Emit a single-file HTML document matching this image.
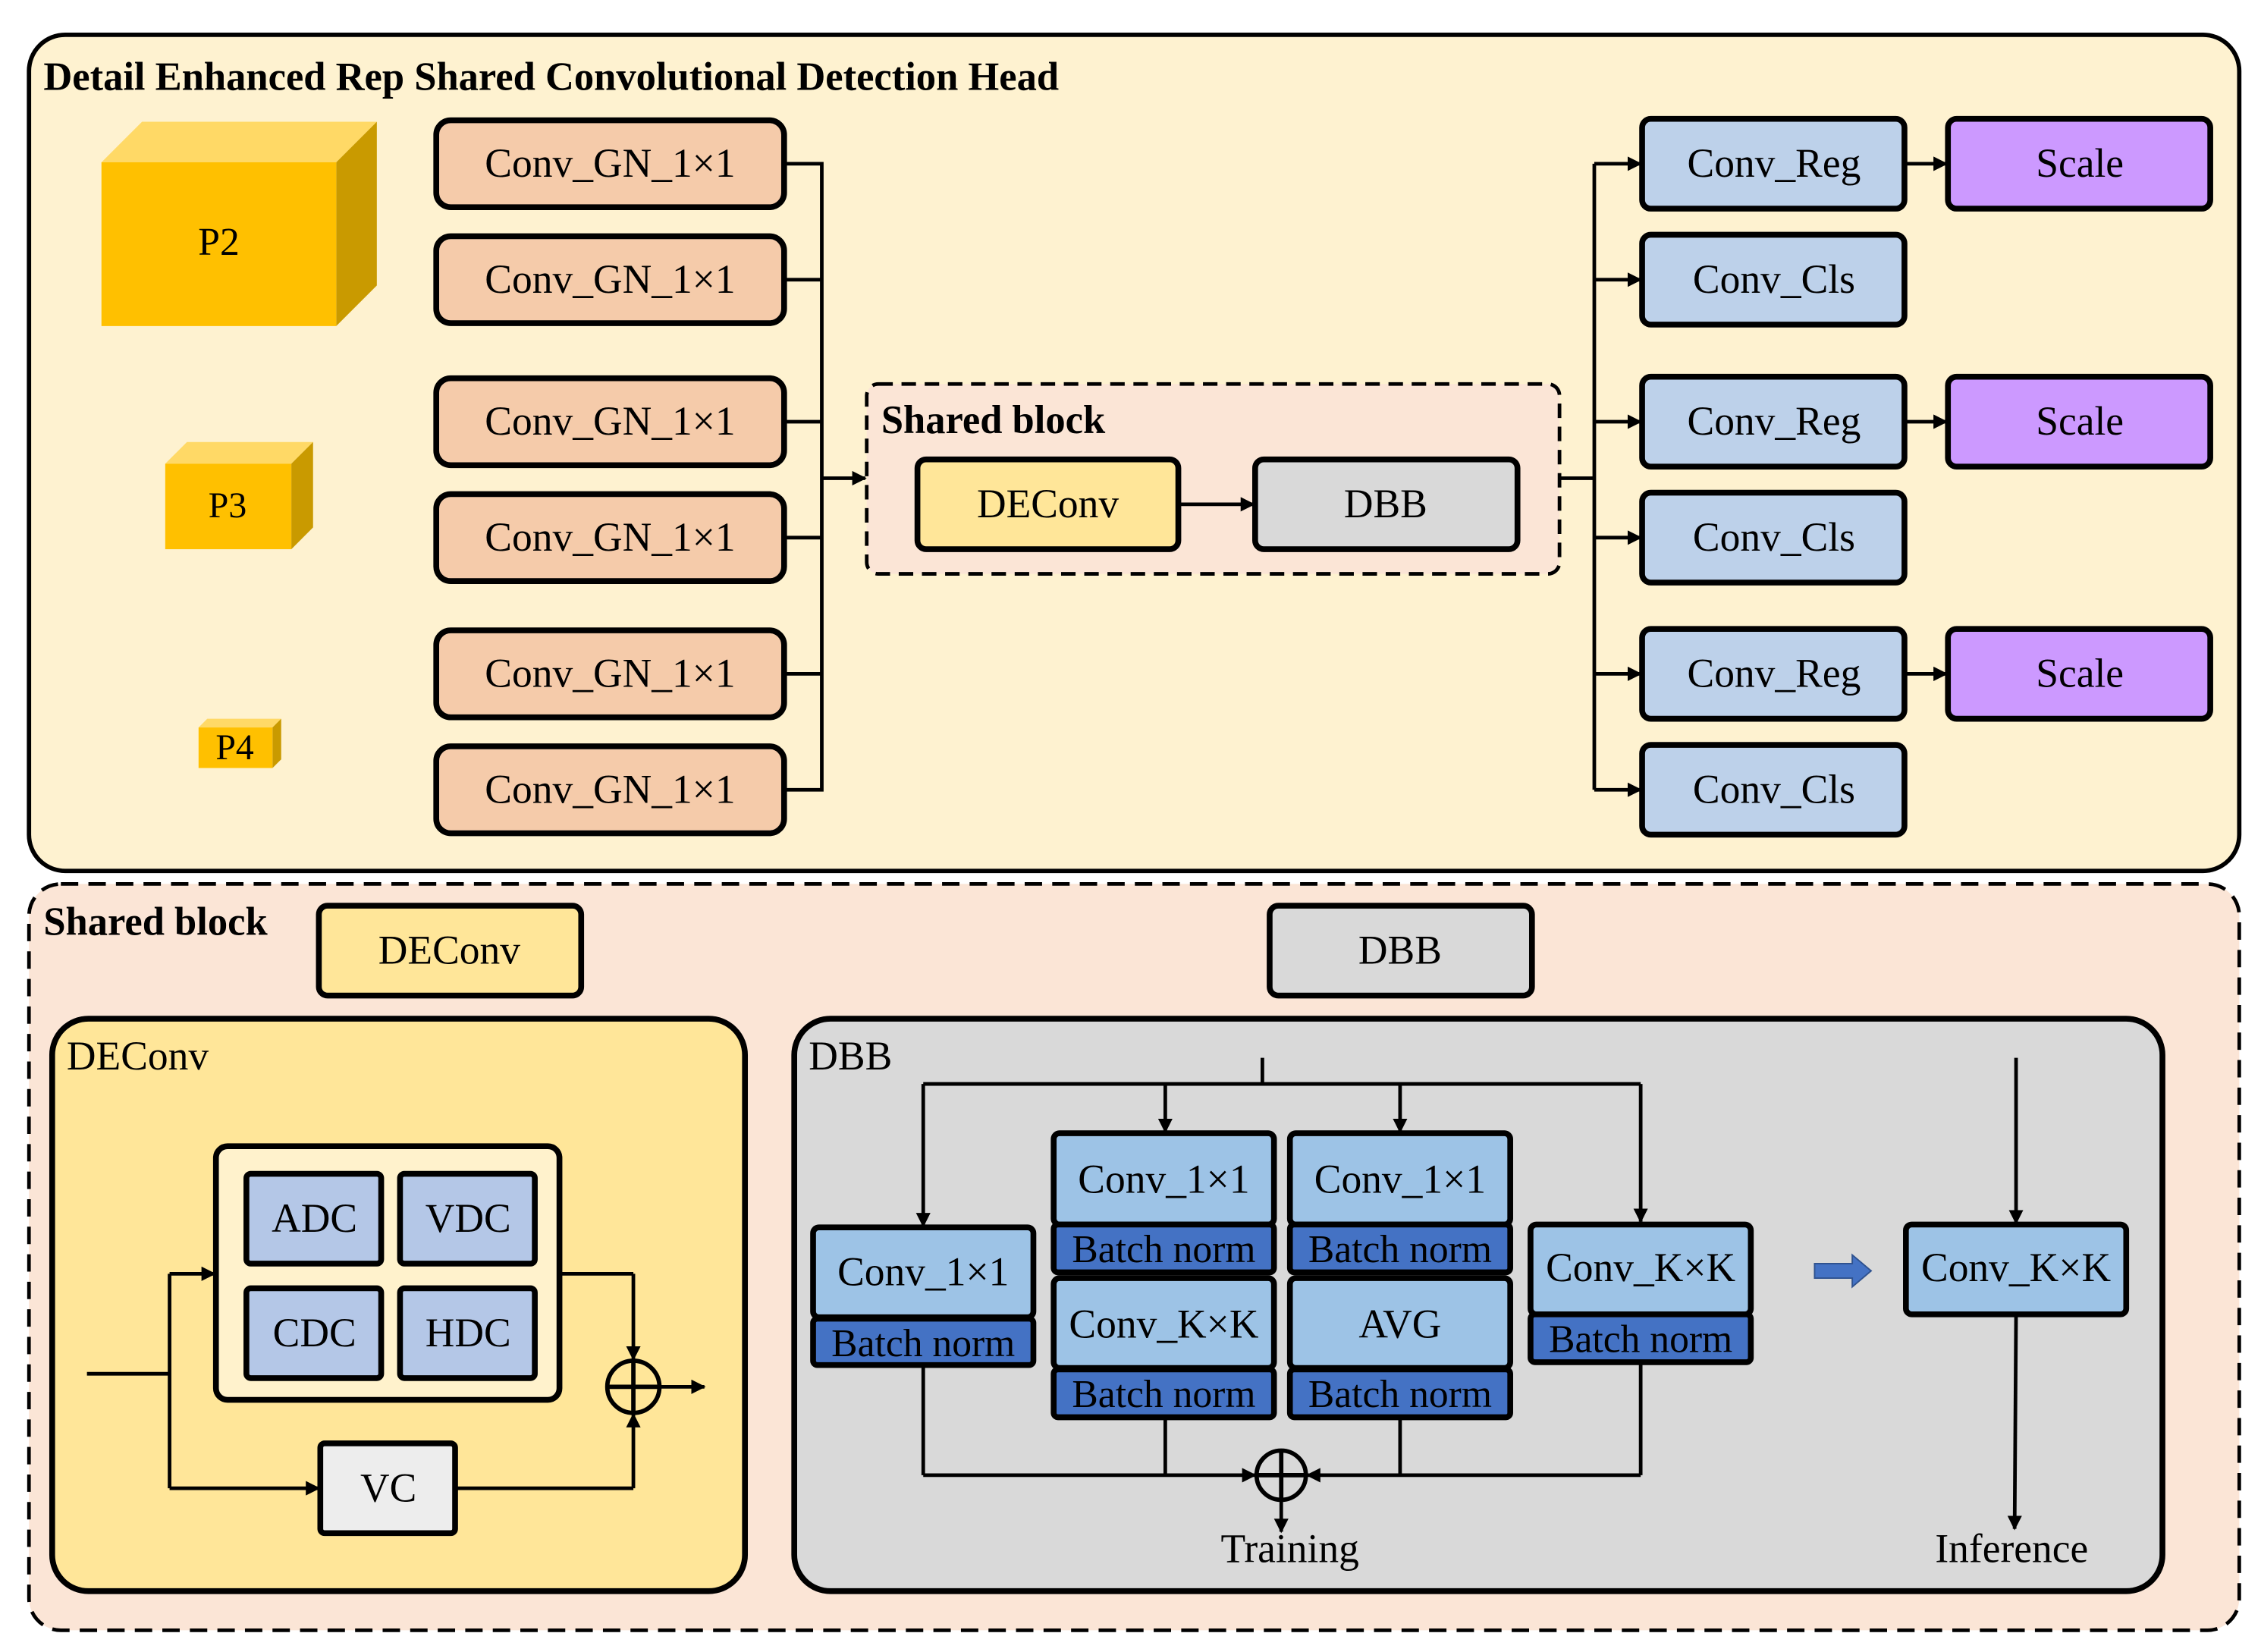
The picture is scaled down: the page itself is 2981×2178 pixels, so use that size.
<!DOCTYPE html>
<html><head><meta charset="utf-8"><style>
html,body{margin:0;padding:0;background:#fff;}
svg{display:block;}
text{font-family:"Liberation Serif",serif;}
</style></head><body>
<svg width="2981" height="2178" viewBox="0 0 1560 1140" preserveAspectRatio="none" xmlns="http://www.w3.org/2000/svg">
<defs>
<marker id="a" markerWidth="10" markerHeight="10" refX="9" refY="5" orient="auto" markerUnits="userSpaceOnUse"><path d="M0,0 L10,5 L0,10 z" fill="#000"/></marker>
</defs>
<rect width="1560" height="1140" fill="#fff"/>
<rect x="20" y="24" width="1525" height="577" rx="25" fill="#FEF2D0" stroke="#000" stroke-width="3"/>
<text x="30" y="62" font-size="27.5" font-weight="bold">Detail Enhanced Rep Shared Convolutional Detection Head</text>
<polygon points="70,112 98,84 260,84 232,112" fill="#FFD966"/>
<polygon points="232,112 260,84 260,197 232,225" fill="#C99A00"/>
<rect x="70" y="112" width="162" height="113" fill="#FFC000"/>
<text x="151" y="176" font-size="27" text-anchor="middle">P2</text>
<polygon points="114,320 129,305 216,305 201,320" fill="#FFD966"/>
<polygon points="201,320 216,305 216,364 201,379" fill="#C99A00"/>
<rect x="114" y="320" width="87" height="59" fill="#FFC000"/>
<text x="157" y="357" font-size="25" text-anchor="middle">P3</text>
<polygon points="137,502 143,496 194,496 188,502" fill="#FFD966"/>
<polygon points="188,502 194,496 194,524 188,530" fill="#C99A00"/>
<rect x="137" y="502" width="51" height="28" fill="#FFC000"/>
<text x="162" y="524" font-size="25" text-anchor="middle">P4</text>
<g fill="#F5CBAA" stroke="#000" stroke-width="4">
<rect x="301" y="83" width="240" height="60" rx="10"/>
<rect x="301" y="163" width="240" height="60" rx="10"/>
<rect x="301" y="261" width="240" height="60" rx="10"/>
<rect x="301" y="341" width="240" height="60" rx="10"/>
<rect x="301" y="435" width="240" height="60" rx="10"/>
<rect x="301" y="515" width="240" height="60" rx="10"/>
</g>
<g font-size="28" text-anchor="middle">
<text x="421" y="122">Conv_GN_1×1</text>
<text x="421" y="202">Conv_GN_1×1</text>
<text x="421" y="300">Conv_GN_1×1</text>
<text x="421" y="380">Conv_GN_1×1</text>
<text x="421" y="474">Conv_GN_1×1</text>
<text x="421" y="554">Conv_GN_1×1</text>
</g>
<g stroke="#000" stroke-width="2.5" fill="none">
<path d="M541,113 H567 V545 H541 M541,193 H567 M541,291 H567 M541,371 H567 M541,465 H567"/>
<line x1="567" y1="330" x2="597" y2="330" marker-end="url(#a)"/>
</g>
<rect x="598" y="265" width="478" height="131" rx="8" fill="#FBE5D6" stroke="#000" stroke-width="2.5" stroke-dasharray="10,6"/>
<text x="608" y="299" font-size="27.5" font-weight="bold">Shared block</text>
<rect x="633" y="317" width="180" height="62" rx="6" fill="#FFE699" stroke="#000" stroke-width="4"/>
<text x="723" y="357" font-size="28" text-anchor="middle">DEConv</text>
<rect x="866" y="317" width="181" height="62" rx="6" fill="#D9D9D9" stroke="#000" stroke-width="4"/>
<text x="956" y="357" font-size="28" text-anchor="middle">DBB</text>
<line x1="813" y1="348" x2="865" y2="348" stroke="#000" stroke-width="2.5" marker-end="url(#a)"/>
<g stroke="#000" stroke-width="2.5" fill="none">
<path d="M1076,330 H1100 M1100,113 V545"/>
<line x1="1100" y1="113" x2="1132" y2="113" marker-end="url(#a)"/>
<line x1="1100" y1="193" x2="1132" y2="193" marker-end="url(#a)"/>
<line x1="1100" y1="291" x2="1132" y2="291" marker-end="url(#a)"/>
<line x1="1100" y1="371" x2="1132" y2="371" marker-end="url(#a)"/>
<line x1="1100" y1="465" x2="1132" y2="465" marker-end="url(#a)"/>
<line x1="1100" y1="545" x2="1132" y2="545" marker-end="url(#a)"/>
<line x1="1314" y1="113" x2="1343" y2="113" marker-end="url(#a)"/>
<line x1="1314" y1="291" x2="1343" y2="291" marker-end="url(#a)"/>
<line x1="1314" y1="465" x2="1343" y2="465" marker-end="url(#a)"/>
</g>
<g fill="#BDD1EA" stroke="#000" stroke-width="4">
<rect x="1133" y="82" width="181" height="62" rx="6"/>
<rect x="1133" y="162" width="181" height="62" rx="6"/>
<rect x="1133" y="260" width="181" height="62" rx="6"/>
<rect x="1133" y="340" width="181" height="62" rx="6"/>
<rect x="1133" y="434" width="181" height="62" rx="6"/>
<rect x="1133" y="514" width="181" height="62" rx="6"/>
</g>
<g fill="#CC99FF" stroke="#000" stroke-width="4">
<rect x="1344" y="82" width="181" height="62" rx="6"/>
<rect x="1344" y="260" width="181" height="62" rx="6"/>
<rect x="1344" y="434" width="181" height="62" rx="6"/>
</g>
<g font-size="28" text-anchor="middle">
<text x="1224" y="122">Conv_Reg</text>
<text x="1224" y="202">Conv_Cls</text>
<text x="1224" y="300">Conv_Reg</text>
<text x="1224" y="380">Conv_Cls</text>
<text x="1224" y="474">Conv_Reg</text>
<text x="1224" y="554">Conv_Cls</text>
<text x="1435" y="122">Scale</text>
<text x="1435" y="300">Scale</text>
<text x="1435" y="474">Scale</text>
</g>
<rect x="20" y="610" width="1525" height="515" rx="22" fill="#FBE5D6" stroke="#000" stroke-width="2.5" stroke-dasharray="12,7"/>
<text x="30" y="645" font-size="27.5" font-weight="bold">Shared block</text>
<rect x="220" y="625" width="181" height="62" rx="6" fill="#FFE699" stroke="#000" stroke-width="4"/>
<text x="310" y="665" font-size="28" text-anchor="middle">DEConv</text>
<rect x="876" y="625" width="181" height="62" rx="6" fill="#D9D9D9" stroke="#000" stroke-width="4"/>
<text x="966" y="665" font-size="28" text-anchor="middle">DBB</text>
<rect x="36" y="703" width="478" height="395" rx="25" fill="#FFE699" stroke="#000" stroke-width="4"/>
<text x="46" y="738" font-size="28">DEConv</text>
<rect x="149" y="791" width="237" height="175" rx="8" fill="#FFF2CC" stroke="#000" stroke-width="4"/>
<g fill="#B4C7E7" stroke="#000" stroke-width="4">
<rect x="170" y="810" width="93" height="62" rx="3"/>
<rect x="276" y="810" width="93" height="62" rx="3"/>
<rect x="170" y="889" width="93" height="62" rx="3"/>
<rect x="276" y="889" width="93" height="62" rx="3"/>
</g>
<rect x="221" y="996" width="93" height="62" rx="3" fill="#EDEDED" stroke="#000" stroke-width="4"/>
<g font-size="28" text-anchor="middle">
<text x="217" y="850">ADC</text>
<text x="323" y="850">VDC</text>
<text x="217" y="929">CDC</text>
<text x="323" y="929">HDC</text>
<text x="268" y="1036">VC</text>
</g>
<g stroke="#000" stroke-width="2.5" fill="none">
<path d="M60,948 H117 M117,879 V1027"/>
<line x1="117" y1="879" x2="148" y2="879" marker-end="url(#a)"/>
<line x1="117" y1="1027" x2="220" y2="1027" marker-end="url(#a)"/>
<path d="M386,879 H437"/>
<line x1="437" y1="879" x2="437" y2="938" marker-end="url(#a)"/>
<path d="M314,1027 H437"/>
<line x1="437" y1="1027" x2="437" y2="976" marker-end="url(#a)"/>
<circle cx="437" cy="957" r="18" stroke-width="3"/>
<path d="M419,957 H455 M437,939 V975" stroke-width="3"/>
<line x1="455" y1="957" x2="486" y2="957" marker-end="url(#a)"/>
</g>
<rect x="548" y="703" width="944" height="395" rx="25" fill="#D9D9D9" stroke="#000" stroke-width="4"/>
<text x="558" y="738" font-size="28">DBB</text>
<g stroke="#000" stroke-width="2.5" fill="none">
<path d="M871,730 V748 M637,748 H1132"/>
<line x1="637" y1="748" x2="637" y2="846" marker-end="url(#a)"/>
<line x1="804" y1="748" x2="804" y2="781" marker-end="url(#a)"/>
<line x1="966" y1="748" x2="966" y2="781" marker-end="url(#a)"/>
<line x1="1132" y1="748" x2="1132" y2="843" marker-end="url(#a)"/>
<path d="M637,942 V1018 M804,978 V1018 M966,978 V1018 M1132,940 V1018"/>
<line x1="637" y1="1018" x2="866" y2="1018" marker-end="url(#a)"/>
<line x1="1132" y1="1018" x2="902" y2="1018" marker-end="url(#a)"/>
<circle cx="884" cy="1018" r="17" stroke-width="3"/>
<path d="M867,1018 H901 M884,1001 V1035" stroke-width="3"/>
<line x1="884" y1="1035" x2="884" y2="1057" marker-end="url(#a)"/>
<line x1="1391" y1="730" x2="1391" y2="844" marker-end="url(#a)"/>
<line x1="1391" y1="907" x2="1390" y2="1055" marker-end="url(#a)"/>
</g>
<g stroke="#000" stroke-width="4">
<rect x="561" y="847" width="152" height="62" rx="4" fill="#9DC3E6"/>
<rect x="561" y="910" width="152" height="32" rx="3" fill="#4472C4"/>
<rect x="727" y="782" width="152" height="63" rx="4" fill="#9DC3E6"/>
<rect x="727" y="845" width="152" height="33" rx="3" fill="#4472C4"/>
<rect x="727" y="882" width="152" height="62" rx="4" fill="#9DC3E6"/>
<rect x="727" y="945" width="152" height="33" rx="3" fill="#4472C4"/>
<rect x="890" y="782" width="152" height="63" rx="4" fill="#9DC3E6"/>
<rect x="890" y="845" width="152" height="33" rx="3" fill="#4472C4"/>
<rect x="890" y="882" width="152" height="62" rx="4" fill="#9DC3E6"/>
<rect x="890" y="945" width="152" height="33" rx="3" fill="#4472C4"/>
<rect x="1056" y="845" width="152" height="62" rx="4" fill="#9DC3E6"/>
<rect x="1056" y="907" width="152" height="33" rx="3" fill="#4472C4"/>
<rect x="1315" y="845" width="152" height="62" rx="4" fill="#9DC3E6"/>
</g>
<g font-size="28" text-anchor="middle">
<text x="637" y="887">Conv_1×1</text>
<text x="803" y="823">Conv_1×1</text>
<text x="966" y="823">Conv_1×1</text>
<text x="803" y="923">Conv_K×K</text>
<text x="966" y="923">AVG</text>
<text x="1132" y="884">Conv_K×K</text>
<text x="1391" y="884">Conv_K×K</text>
</g>
<g font-size="27" text-anchor="middle">
<text x="637" y="936">Batch norm</text>
<text x="803" y="871">Batch norm</text>
<text x="966" y="871">Batch norm</text>
<text x="803" y="971">Batch norm</text>
<text x="966" y="971">Batch norm</text>
<text x="1132" y="933">Batch norm</text>
</g>
<polygon points="1252,872 1278,872 1278,866 1291,877 1278,888 1278,882 1252,882" fill="#4472C4" stroke="#2F528F" stroke-width="1"/>
<text x="890" y="1078" font-size="28" text-anchor="middle">Training</text>
<text x="1388" y="1078" font-size="28" text-anchor="middle">Inference</text>
</svg>
</body></html>
